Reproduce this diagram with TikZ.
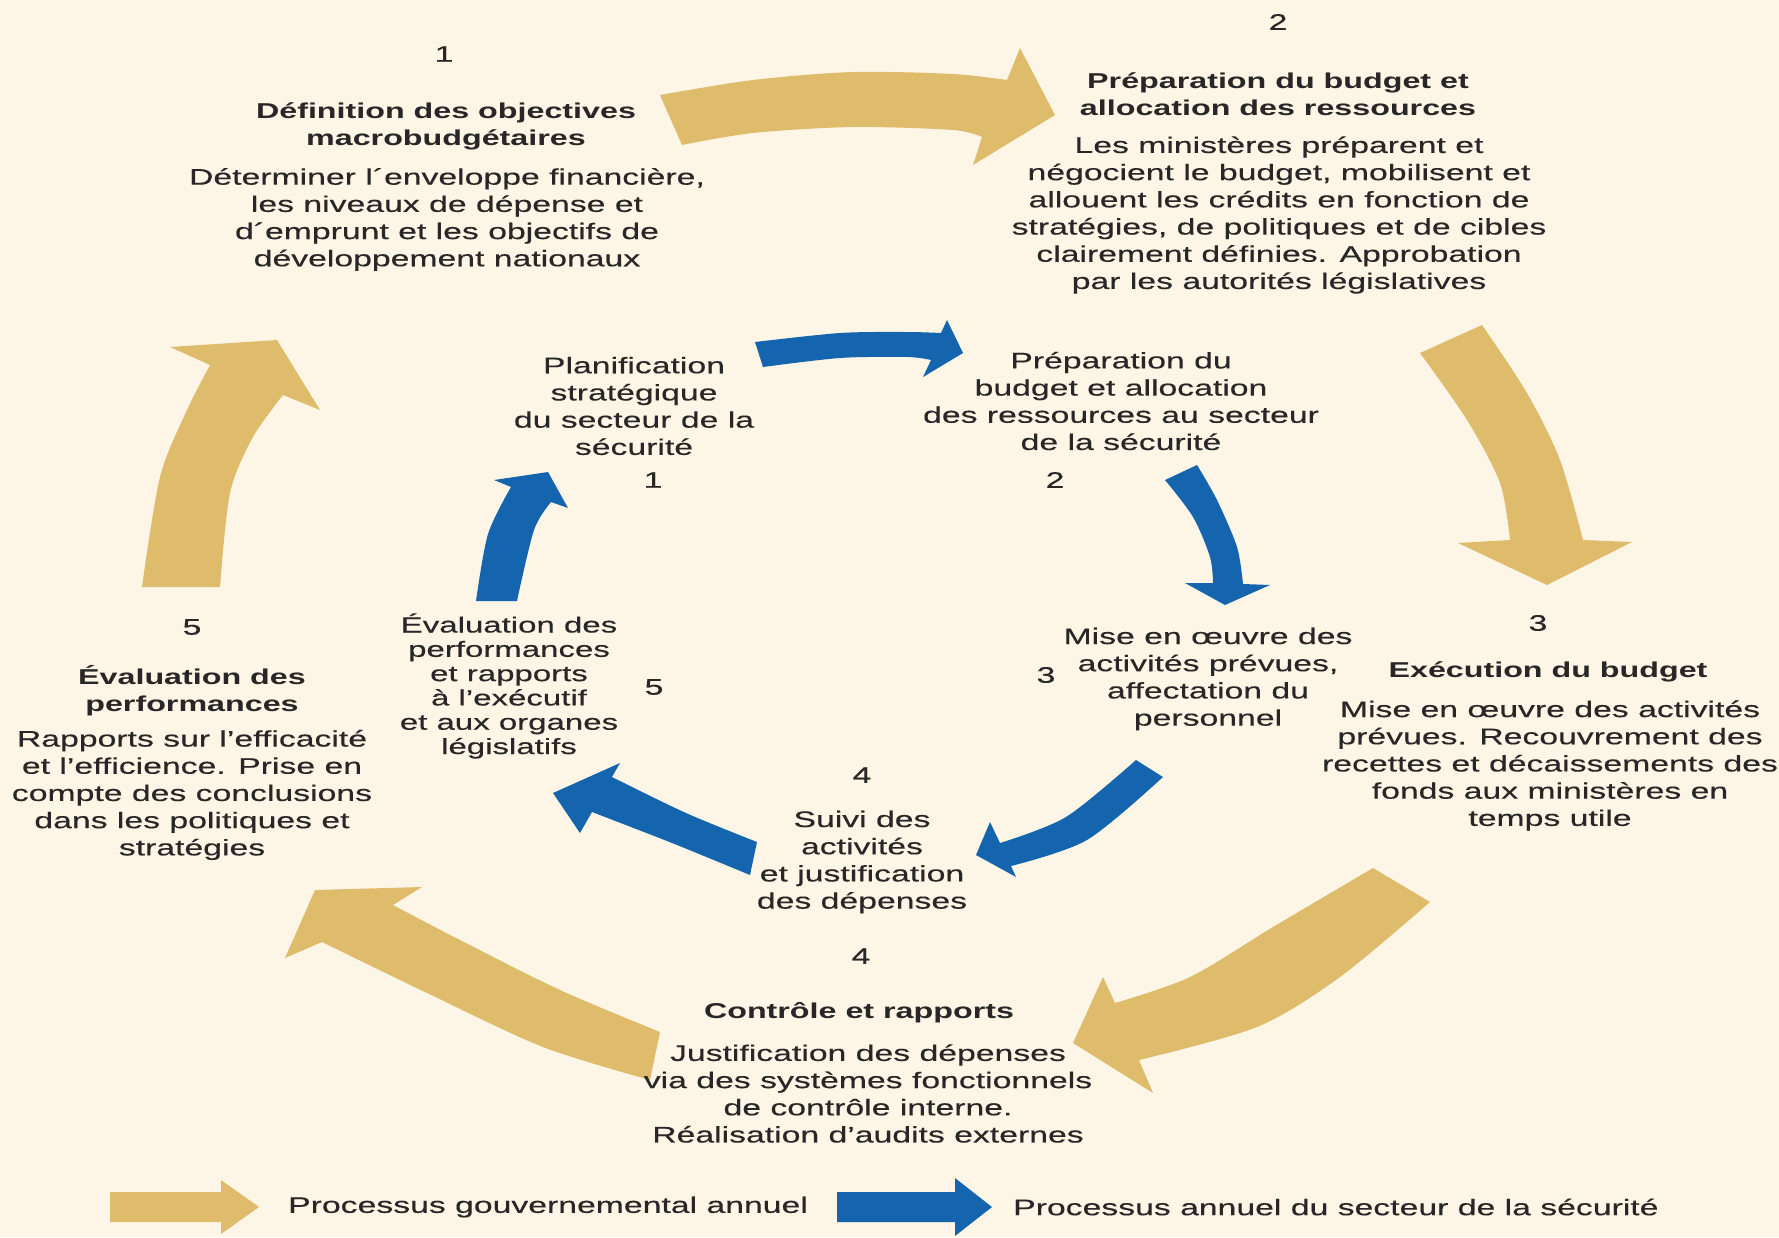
\documentclass[tikz,border=0pt]{standalone}
\usepackage{fontspec}
\setmainfont{Liberation Sans}[FakeStretch=1.5, UprightFeatures={FakeBold=0.3}, BoldFeatures={FakeBold=0}]
\definecolor{bgc}{RGB}{253,246,231}
\definecolor{goldc}{RGB}{222,188,108}
\definecolor{bluec}{RGB}{21,101,174}
\definecolor{txtc}{RGB}{40,38,38}
\tikzset{
  txt/.style={font=\fontsize{22.5}{27.2}\selectfont, align=center, text=txtc, inner sep=0pt},
  txttight/.style={font=\fontsize{22}{24.3}\selectfont, align=center, text=txtc, inner sep=0pt},
  hd/.style={font=\fontsize{21.5}{27.2}\selectfont\bfseries, align=center, text=txtc, inner sep=0pt},
  num/.style={font=\fontsize{22.5}{27}\selectfont, text=txtc, inner sep=0pt},
  gold/.style={fill=goldc},
  blue/.style={fill=bluec}
}
\begin{document}
\begin{tikzpicture}[x=1pt,y=-1pt]
\fill[bgc] (0,0) rectangle (1779,1237);
\useasboundingbox (0,0) rectangle (1779,1237);

% ---------- gold (outer) arrows ----------
\fill[gold] plot[smooth] coordinates {(660,95) (753,80) (853,72) (953,74) (1007,80)} -- (1020,48) -- (1055,115) -- (973,165) -- plot[smooth] coordinates {(982,137) (953,130) (853,127) (753,133) (682,145)} -- cycle;
\fill[gold] plot[smooth] coordinates {(1420,353) (1467,420) (1500,483) (1510,540)} -- (1458,543) -- (1547,585) -- (1632,542) -- plot[smooth] coordinates {(1583,540) (1560,460) (1527,393) (1482,325)} -- cycle;
\fill[gold] plot[smooth] coordinates {(1373,868) (1273,927) (1190,977) (1115,1003)} -- (1103,977) -- (1073,1043) -- (1153,1093) -- plot[smooth] coordinates {(1139,1060) (1257,1027) (1340,977) (1430,902)} -- cycle;
\fill[gold] plot[smooth] coordinates {(660,1032) (560,990) (460,940) (393,905)} -- (422,887) -- (315,890) -- (285,958) -- plot[smooth] coordinates {(322,942) (427,993) (543,1047) (650,1080)} -- cycle;
\fill[gold] plot[smooth] coordinates {(142,587) (160,477) (187,410) (210,365)} -- (170,347) -- (277,340) -- (320,410) -- plot[smooth] coordinates {(283,395) (253,437) (230,493) (220,587)} -- cycle;

% ---------- blue (inner) arrows ----------
\fill[blue] plot[smooth] coordinates {(755,342) (840,333) (907,332) (941,333)} -- (947,320) -- (963,353) -- (923,377) -- plot[smooth] coordinates {(931,360) (907,357) (840,358) (763,367)} -- cycle;
\fill[blue] plot[smooth] coordinates {(1165,480) (1193,517) (1210,557) (1213,583)} -- (1185,583) -- (1225,605) -- (1270,585) -- plot[smooth] coordinates {(1243,584) (1237,547) (1217,500) (1197,465)} -- cycle;
\fill[blue] plot[smooth] coordinates {(1136,760) (1066,817) (1000,843)} -- (990,822) -- (976,855) -- (1016,877) -- plot[smooth] coordinates {(1011,866) (1087,840) (1163,777)} -- cycle;
\fill[blue] plot[smooth] coordinates {(757,842) (686,813) (612,777)} -- (620,763) -- (553,793) -- (580,833) -- plot[smooth] coordinates {(592,812) (672,843) (750,875)} -- cycle;
\fill[blue] plot[smooth] coordinates {(476,601) (488,534) (511,487)} -- (494,480) -- (548,472) -- (568,508) -- plot[smooth] coordinates {(551,502) (534,530) (517,601)} -- cycle;

% ---------- gold texts ----------
\node[num] (g1num) at (444,54) {1};
\node[hd] (g1head) at (446,126.5) {Définition des objectives\\macrobudgétaires};
\node[txt] (g1body) at (447,219.5) {Déterminer l´enveloppe financière,\\les niveaux de dépense et\\d´emprunt et les objectifs de\\développement nationaux};

\node[num] (g2num) at (1278,22) {2};
\node[hd] (g2head) at (1278,94.5) {Préparation du budget et\\allocation des ressources};
\node[txt] (g2body) at (1279,215) {Les ministères préparent et\\négocient le budget, mobilisent et\\allouent les crédits en fonction de\\stratégies, de politiques et de cibles\\clairement définies. Approbation\\par les autorités législatives};

\node[num] (g3num) at (1538,623) {3};
\node[hd] (g3head) at (1548,672) {Exécution du budget};
\node[txt] (g3body) at (1550,765.5) {Mise en œuvre des activités\\prévues. Recouvrement des\\recettes et décaissements des\\fonds aux ministères en\\temps utile};

\node[num] (g4num) at (861,956) {4};
\node[hd] (g4head) at (859,1013) {Contrôle et rapports};
\node[txt] (g4body) at (868,1093.5) {Justification des dépenses\\via des systèmes fonctionnels\\de contrôle interne.\\Réalisation d’audits externes};

\node[num] (g5num) at (192,627) {5};
\node[hd] (g5head) at (192,690.5) {Évaluation des\\performances};
\node[txt] (g5body) at (192,795) {Rapports sur l’efficacité\\et l’efficience. Prise en\\compte des conclusions\\dans les politiques et\\stratégies};

% ---------- blue texts ----------
\node[txt] (b1txt) at (634,406) {Planification\\stratégique\\du secteur de la\\sécurité};
\node[num] (b1num) at (653,480) {1};
\node[txt] (b2txt) at (1121,401) {Préparation du\\budget et allocation\\des ressources au secteur\\de la sécurité};
\node[num] (b2num) at (1055,480) {2};
\node[txt] (b3txt) at (1208,679) {Mise en œuvre des\\activités prévues,\\affectation du\\personnel};
\node[num] (b3num) at (1046,675) {3};
\node[num] (b4num) at (862,775) {4};
\node[txt] (b4txt) at (862,862) {Suivi des\\activités\\et justification\\des dépenses};
\node[txttight] (b5txt) at (509,686) {Évaluation des\\performances\\et rapports\\à l’exécutif\\et aux organes\\législatifs};
\node[num] (b5num) at (654,687) {5};

% ---------- legend ----------
\fill[gold] (110,1192) -- (221,1192) -- (221,1180) -- (259,1207) -- (221,1234) -- (221,1222) -- (110,1222) -- cycle;
\node[txt, anchor=west] (leg1) at (288,1207) {Processus gouvernemental annuel};
\fill[blue] (837,1192) -- (955,1192) -- (955,1178) -- (992,1207) -- (955,1236) -- (955,1222) -- (837,1222) -- cycle;
\node[txt, anchor=west] (leg2) at (1013,1207) {Processus annuel du secteur de la sécurité};
\end{tikzpicture}
\end{document}
